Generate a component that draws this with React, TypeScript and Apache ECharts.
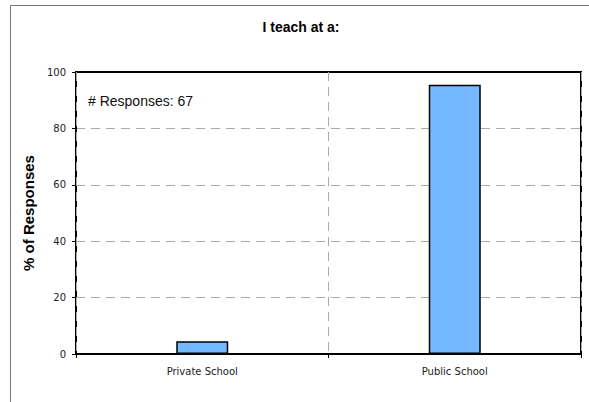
import React, { useEffect, useRef } from "react";
import * as echarts from "echarts";

const categories = ["Private School", "Public School"];
const percentValues = [4.48, 95.52];
const yTicks = { min: 0, max: 100, interval: 20 };
const titleText = "I teach at a:";
const responsesText = "# Responses: 67";
const yAxisTitle = "% of Responses";

export default function App() {
  const ref = useRef<HTMLDivElement>(null);
  useEffect(() => {
    if (!ref.current) return;
    const chart = echarts.init(ref.current, undefined, { renderer: "svg" });
    chart.setOption({
      animation: false,
      backgroundColor: "#ffffff",
      title: {
        text: titleText,
        left: 296,
        textAlign: "center",
        top: 15,
        textStyle: { fontFamily: "Liberation Sans", fontWeight: "bold", fontSize: 14, color: "#000" },
      },
      grid: {
        left: 76,
        right: 8,
        top: 72,
        bottom: 48,
        show: true,
        z: 5,
        borderColor: "#000",
        borderWidth: 2,
        backgroundColor: "transparent",
      },
      xAxis: {
        type: "category",
        data: categories,
        z: 6,
        axisLine: { show: true, lineStyle: { color: "#000", width: 2 } },
        axisTick: { show: true, length: 4, lineStyle: { color: "#000", width: 1 } },
        axisLabel: { fontFamily: "DejaVu Sans", fontSize: 10, color: "#222", margin: 12 },
        splitLine: { show: true, lineStyle: { color: "#aaa", type: [9, 6], width: 1 } },
      },
      yAxis: {
        type: "value",
        min: yTicks.min,
        max: yTicks.max,
        interval: yTicks.interval,
        name: yAxisTitle,
        nameLocation: "middle",
        nameGap: 40,
        nameTextStyle: { fontFamily: "Liberation Sans", fontWeight: "bold", fontSize: 15, color: "#000" },
        axisLine: { show: true, lineStyle: { color: "#000", width: 2 } },
        axisTick: { show: true, length: 4, lineStyle: { color: "#000", width: 1 } },
        axisLabel: { fontFamily: "DejaVu Sans", fontSize: 10, color: "#222", margin: 10 },
        splitLine: { show: true, lineStyle: { color: "#aaa", type: [9, 6], width: 1 } },
      },
      series: [
        {
          type: "bar",
          data: percentValues,
          barWidth: 52,
          z: 3,
          itemStyle: { color: "#74B8FF", borderColor: "#000", borderWidth: 1.5 },
        },
      ],
      graphic: [
        {
          type: "rect",
          left: 10,
          top: 5,
          shape: { width: 700, height: 500 },
          style: { fill: "transparent", stroke: "#777", lineWidth: 1 },
          z: -1,
          silent: true,
        },
        {
          type: "text",
          left: 88,
          top: 94,
          style: { text: responsesText, font: "14px 'Liberation Sans'", fill: "#111" },
        },
      ],
    });
    return () => chart.dispose();
  }, []);
  return <div ref={ref} style={{ position: "absolute", left: 0, top: 0, width: 589, height: 402 }} />;
}
